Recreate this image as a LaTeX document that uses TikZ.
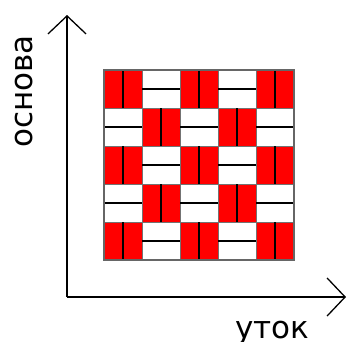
\documentclass[tikz,border=0pt]{standalone}
\usepackage{fontspec}
\setmainfont{DejaVu Sans}
\usetikzlibrary{arrows.meta}
\tikzset{
  axis/.style={line width=1.3pt, -{Straight Barb[length=18pt,width=38pt,line width=1.3pt]}},
  lbl/.style={inner sep=0pt, font=\fontsize{31}{31}\selectfont, anchor=base},
  redcell/.style={fill=red, draw=black!55, line width=1pt},
  whitecell/.style={fill=white, draw=black!55, line width=1pt},
  midline/.style={draw=black, line width=1.4pt},
  frame/.style={draw=black!60, line width=1.2pt}
}
\begin{document}
\begin{tikzpicture}[x=1pt,y=-1pt]
\useasboundingbox (0,0) rectangle (348,341);
\coordinate (O) at (67,297);
\coordinate (Ytip) at (67,15);
\coordinate (Xtip) at (346,297);
\foreach \i in {0,...,4}{
  \foreach \j in {0,...,4}{
    \pgfmathtruncatemacro{\parity}{mod(\i+\j,2)}
    \pgfmathsetmacro{\cx}{104+38*\j}
    \pgfmathsetmacro{\cy}{70+38*\i}
    \ifnum\parity=0
      \path[redcell] (\cx,\cy) rectangle ++(19,38);
      \path[redcell] (\cx+19,\cy) rectangle ++(19,38);
      \path[midline] (\cx+19,\cy) -- ++(0,38);
    \else
      \path[whitecell] (\cx,\cy) rectangle ++(38,19);
      \path[whitecell] (\cx,\cy+19) rectangle ++(38,19);
      \path[midline] (\cx,\cy+19) -- ++(38,0);
    \fi
  }
}
\path[frame] (104,70) rectangle (294,260);
\draw[axis] (O) -- (Ytip);
\draw[axis] (O) -- (Xtip);
\node[lbl, rotate=90] (osnova) at (32,91.5) {основа};
\node[lbl] (utok) at (272.5,338) {уток};
\end{tikzpicture}
\end{document}
